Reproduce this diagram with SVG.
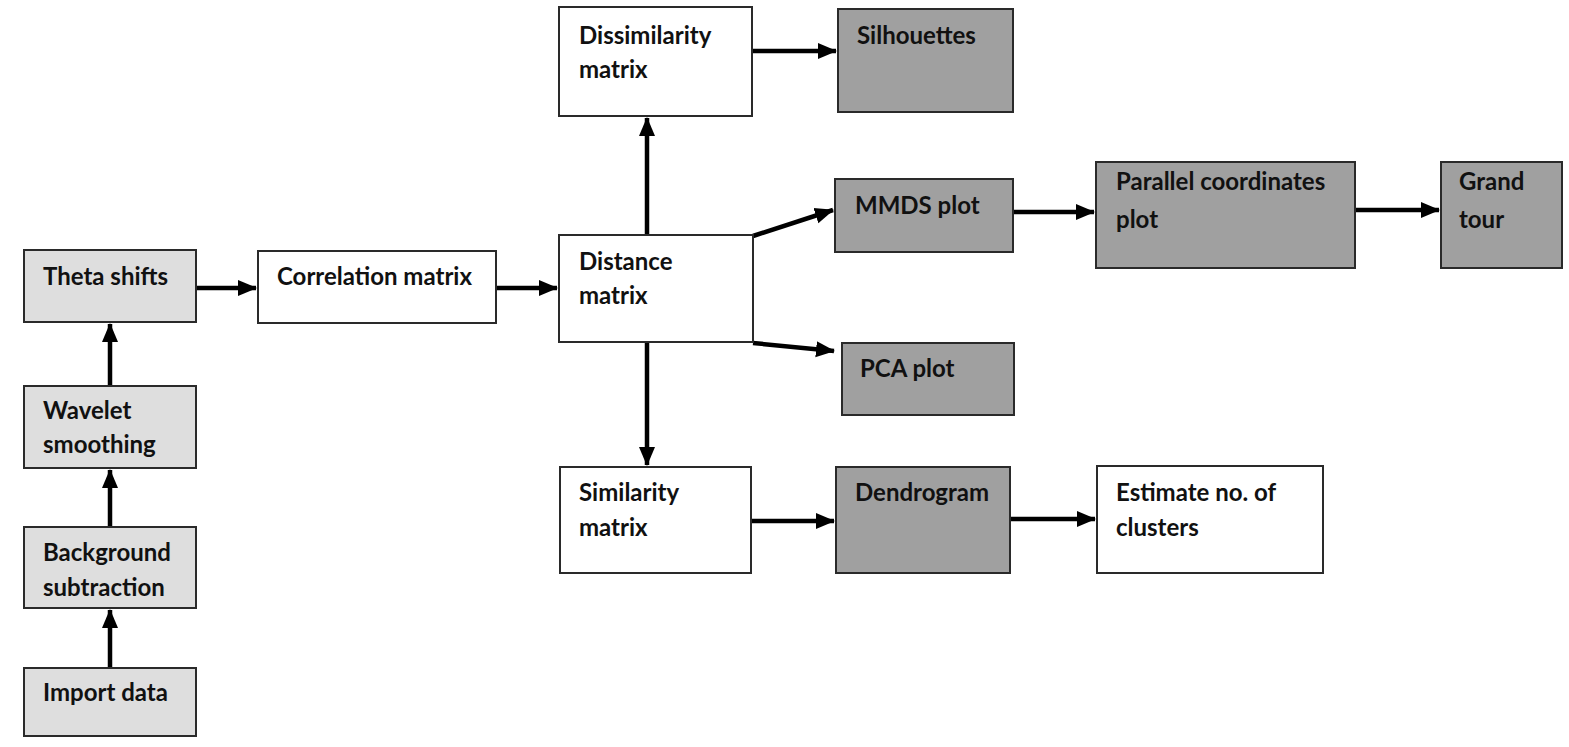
<svg xmlns="http://www.w3.org/2000/svg" width="1569" height="747" viewBox="0 0 1569 747">
<style>
.n rect{stroke:#2a2a2a;stroke-width:2}
.w{fill:#ffffff}
.l{fill:#dedede}
.d{fill:#a0a0a0}
text{font-family:Lato,"Liberation Sans",sans-serif;font-weight:bold;font-size:24px;fill:#111}
#connectors line{stroke:#000;stroke-width:4.5;marker-end:url(#ah)}
</style>
<defs>
<marker id="ah" markerUnits="userSpaceOnUse" markerWidth="20" markerHeight="20" viewBox="0 0 20 20" refX="18" refY="10" orient="auto">
<path d="M0,2 L19,10 L0,18 Z" fill="#000"/>
</marker>
</defs>
<rect width="1569" height="747" fill="#fff"/>
<g id="connectors">
<line x1="110" y1="668" x2="110" y2="610"/>
<line x1="110" y1="527" x2="110" y2="470"/>
<line x1="110" y1="386" x2="110" y2="324"/>
<line x1="197" y1="288" x2="256" y2="288"/>
<line x1="497" y1="288" x2="557" y2="288"/>
<line x1="647" y1="235" x2="647" y2="118"/>
<line x1="647" y1="343" x2="647" y2="465"/>
<line x1="753" y1="51" x2="836" y2="51"/>
<line x1="753" y1="236" x2="833" y2="210"/>
<line x1="753" y1="343" x2="834" y2="351"/>
<line x1="1014" y1="212" x2="1094" y2="212"/>
<line x1="1356" y1="210" x2="1439" y2="210"/>
<line x1="752" y1="521" x2="834" y2="521"/>
<line x1="1011" y1="519" x2="1095" y2="519"/>
</g>
<g id="import" class="n"><rect class="l" x="24" y="668" width="172" height="68"/><text x="43" y="701">Import data</text></g>
<g id="background" class="n"><rect class="l" x="24" y="527" width="172" height="81"/><text x="43" y="561">Background</text><text x="43" y="596">subtraction</text></g>
<g id="wavelet" class="n"><rect class="l" x="24" y="386" width="172" height="82"/><text x="43" y="419">Wavelet</text><text x="43" y="453">smoothing</text></g>
<g id="theta" class="n"><rect class="l" x="24" y="250" width="172" height="72"/><text x="43" y="285">Theta shifts</text></g>
<g id="correlation" class="n"><rect class="w" x="258" y="251" width="238" height="72"/><text x="277" y="285">Correlation matrix</text></g>
<g id="distance" class="n"><rect class="w" x="559" y="235" width="194" height="107"/><text x="579" y="270">Distance</text><text x="579" y="304">matrix</text></g>
<g id="dissimilarity" class="n"><rect class="w" x="559" y="7" width="193" height="109"/><text x="579" y="44">Dissimilarity</text><text x="579" y="78">matrix</text></g>
<g id="silhouettes" class="n"><rect class="d" x="838" y="9" width="175" height="103"/><text x="857" y="44">Silhouettes</text></g>
<g id="mmds" class="n"><rect class="d" x="835" y="179" width="178" height="73"/><text x="855" y="214">MMDS plot</text></g>
<g id="parallel" class="n"><rect class="d" x="1096" y="162" width="259" height="106"/><text x="1116" y="190">Parallel coordinates</text><text x="1116" y="228">plot</text></g>
<g id="grandtour" class="n"><rect class="d" x="1441" y="162" width="121" height="106"/><text x="1459" y="190">Grand</text><text x="1459" y="228">tour</text></g>
<g id="pca" class="n"><rect class="d" x="842" y="343" width="172" height="72"/><text x="860" y="377">PCA plot</text></g>
<g id="similarity" class="n"><rect class="w" x="560" y="467" width="191" height="106"/><text x="579" y="501">Similarity</text><text x="579" y="536">matrix</text></g>
<g id="dendrogram" class="n"><rect class="d" x="836" y="467" width="174" height="106"/><text x="855" y="501">Dendrogram</text></g>
<g id="estimate" class="n"><rect class="w" x="1097" y="466" width="226" height="107"/><text x="1116" y="501">Estimate no. of</text><text x="1116" y="536">clusters</text></g>
</svg>
